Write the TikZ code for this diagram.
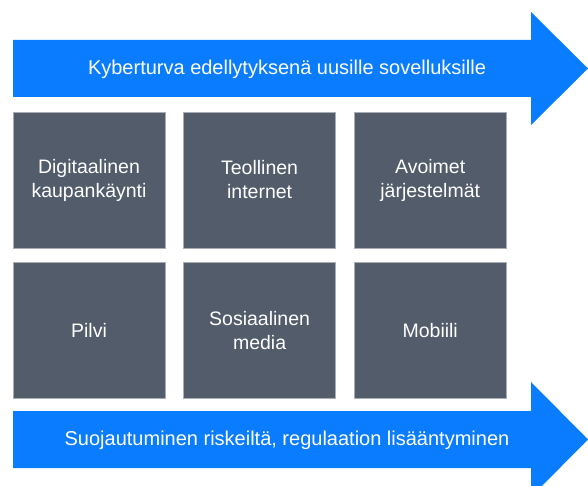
\documentclass[tikz,border=0pt]{standalone}
\usepackage{fontspec}
\setmainfont{Liberation Sans}
\usetikzlibrary{positioning}
\definecolor{kblue}{HTML}{0A7CFF}
\definecolor{kslate}{HTML}{535C6A}
\definecolor{kedge}{HTML}{A9AEB6}
\tikzset{
  ktile/.style={
    draw=kedge, line width=0.6pt, fill=kslate, text=white, align=center,
    minimum width=152pt, minimum height=136pt, inner sep=0pt,
    font=\fontsize{19.5}{24}\selectfont},
  kband/.style={fill=kblue},
  klabel/.style={text=white, font=\fontsize{20}{24}\selectfont},
}

\begin{document}
\begin{tikzpicture}[x=1pt,y=-1pt]
\clip (0,0) rectangle (588,486);

% top band
\fill[kband] (13,40) -- (531,40) -- (531,12) -- (588,68.5) -- (531,125)
  -- (531,97) -- (13,97) -- cycle;
\node[klabel] (upper) at (287,69) {Kyberturva edellytyksenä uusille sovelluksille};

% tiles, two rows of three
\node[ktile] (digi) at (89,180) {Digitaalinen\\kaupankäynti};
\node[ktile,right=18pt of digi] (teol) {Teollinen\\internet};
\node[ktile,right=18pt of teol] (avoin) {Avoimet\\järjestelmät};
\node[ktile,below=14pt of digi] (pilvi) {Pilvi};
\node[ktile,below=14pt of teol] (some) {Sosiaalinen\\media};
\node[ktile,below=14pt of avoin] (mobi) {Mobiili};

% bottom band
\fill[kband] (13,411) -- (531,411) -- (531,382) -- (588,439.5) -- (531,497)
  -- (531,468) -- (13,468) -- cycle;
\node[klabel] (lower) at (287,440) {Suojautuminen riskeiltä, regulaation lisääntyminen};

\end{tikzpicture}
\end{document}
